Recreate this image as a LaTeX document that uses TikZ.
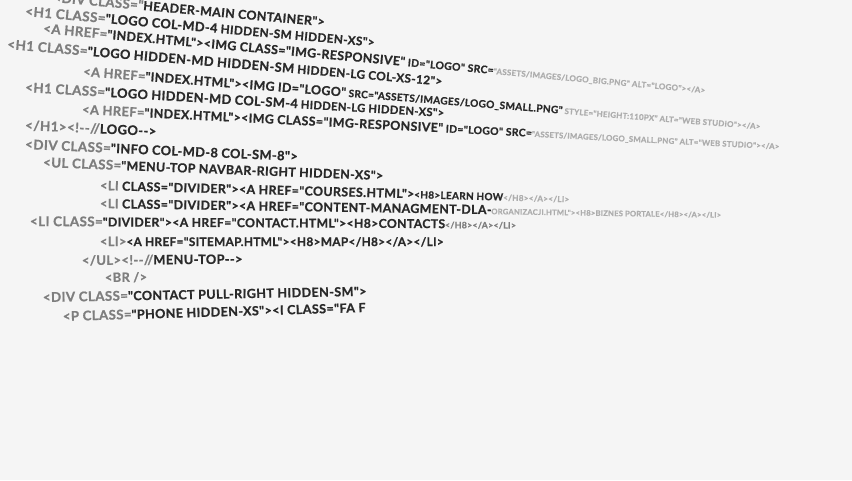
\documentclass[tikz,border=0pt]{standalone}
\usepackage{fontspec}
\usepackage{xcolor}
\usepackage{tikz}
\usetikzlibrary{positioning}

\newfontfamily\codefont[LetterSpace=3, BoldFeatures={FakeBold=0.9}]{Lato}
\definecolor{paper}{HTML}{F5F5F5}
\definecolor{inkdark}{HTML}{2A2A2A}
\definecolor{inksoft}{HTML}{7E7E7E}
\definecolor{inkfaint}{HTML}{ADADAD}

\tikzset{
  codetxt/.style={font={\codefont\bfseries\fontsize{#1}{#1}\selectfont}, inner sep=0pt, outer sep=0pt, anchor=base west, text=inkdark},
  soft/.style={text=inksoft},
  faint/.style={text=inkfaint}
}

\begin{document}
\begin{tikzpicture}[x=1pt, y=-1pt]
\useasboundingbox (0, 0) rectangle (852, 480);
\fill[paper] (0, 0) rectangle (852, 480);
\clip (0, 0) rectangle (852, 480);

% header rows
\node[codetxt=12.4, rotate=-5.1] (r0b) at (143, 10) {HEADER-MAIN CONTAINER">};
\node[codetxt=13.2, soft, rotate=-5.1, anchor=base east] (r0a) at (r0b.base west) {<DIV CLASS="};

\node[codetxt=13.5, soft, rotate=-5.0] (r1a) at (25, 16) {<H1 CLASS=};
\node[codetxt=12.8, rotate=-5.0] (r1b) at (r1a.base east) {"LOGO COL-MD-4};
\node[codetxt=11.8, rotate=-5.0] (r1c) at (r1b.base east) {\ HIDDEN-SM HIDDEN-XS">};

\node[codetxt=13.3, soft, rotate=-5.2] (r2a) at (43, 33) {<A HREF=};
\node[codetxt=12.4, rotate=-5.2] (r2b) at (r2a.base east) {"INDEX.HTML"><IMG CLASS="IMG-RESPONSIVE"};
\node[codetxt=10.4, rotate=-5.2] (r2c) at (r2b.base east) {\ ID="LOGO" SRC=};
\node[codetxt=8.0, faint, rotate=-5.2] (r2d) at (r2c.base east) {"ASSETS/IMAGES/LOGO\_BIG.PNG" ALT="LOGO"></A>};

\node[codetxt=13.5, soft, rotate=-4.8] (r3a) at (7, 49) {<H1 CLASS=};
\node[codetxt=12.8, rotate=-4.8] (r3b) at (r3a.base east) {"LOGO HIDDEN-MD HIDDEN-SM};
\node[codetxt=11.8, rotate=-4.8] (r3c) at (r3b.base east) {\ HIDDEN-LG COL-XS-12">};

\node[codetxt=12.9, soft, rotate=-4.5] (r4a) at (83, 76) {<A HREF=};
\node[codetxt=12.4, rotate=-4.5] (r4b) at (r4a.base east) {"INDEX.HTML"><IMG ID="LOGO"};
\node[codetxt=10.1, rotate=-4.5] (r4c) at (r4b.base east) {\ SRC="ASSETS/IMAGES/LOGO\_SMALL.PNG"};
\node[codetxt=7.9, faint, rotate=-4.5] (r4d) at (r4c.base east) {\ STYLE="HEIGHT:110PX" ALT="WEB STUDIO"></A>};

\node[codetxt=13.4, soft, rotate=-3.4] (r5a) at (25, 92) {<H1 CLASS=};
\node[codetxt=12.8, rotate=-3.4] (r5b) at (r5a.base east) {"LOGO HIDDEN-MD COL-SM-4};
\node[codetxt=11.2, rotate=-3.4] (r5c) at (r5b.base east) {\ HIDDEN-LG HIDDEN-XS">};

\node[codetxt=12.9, soft, rotate=-2.9] (r6a) at (82, 114) {<A HREF=};
\node[codetxt=12.4, rotate=-2.9] (r6b) at (r6a.base east) {"INDEX.HTML"><IMG CLASS="IMG-RESPONSIVE"};
\node[codetxt=10.4, rotate=-2.9] (r6c) at (r6b.base east) {\ ID="LOGO" SRC=};
\node[codetxt=7.8, faint, rotate=-2.9] (r6d) at (r6c.base east) {"ASSETS/IMAGES/LOGO\_SMALL.PNG" ALT="WEB STUDIO"></A>};

% info and menu
\node[codetxt=13.4, soft, rotate=-2.6] (r7a) at (25, 130) {</H1><!-{}-//};
\node[codetxt=13.0, rotate=-2.6] (r7b) at (r7a.base east) {LOGO-{}->};

\node[codetxt=13.4, soft, rotate=-2.5] (r8a) at (25, 149) {<DIV CLASS=};
\node[codetxt=12.8, rotate=-2.5] (r8b) at (r8a.base east) {"INFO COL-MD-8 COL-SM-8">};

\node[codetxt=13.3, soft, rotate=-2.2] (r9a) at (43, 167) {<UL CLASS=};
\node[codetxt=12.4, rotate=-2.2] (r9b) at (r9a.base east) {"MENU-TOP NAVBAR-RIGHT HIDDEN-XS">};

\node[codetxt=12.8, soft, rotate=-1.5] (r10a) at (100, 190) {<LI};
\node[codetxt=12.4, rotate=-1.5] (r10b) at (r10a.base east) {\ CLASS="DIVIDER"><A HREF="COURSES.HTML">};
\node[codetxt=10.0, rotate=-1.5] (r10c) at (r10b.base east) {<H8>LEARN HOW};
\node[codetxt=8.2, faint, rotate=-1.5] (r10d) at (r10c.base east) {</H8></A></LI>};

\node[codetxt=12.8, soft, rotate=-0.9] (r11a) at (100, 208) {<LI};
\node[codetxt=12.4, rotate=-0.9] (r11b) at (r11a.base east) {\ CLASS="DIVIDER"><A HREF="CONTENT-MANAGMENT-DLA-};
\node[codetxt=7.6, faint, rotate=-0.9] (r11c) at (r11b.base east) {ORGANIZACJI.HTML"><H8>BIZNES PORTALE</H8></A></LI>};

\node[codetxt=13.4, soft, rotate=-0.3] (r12a) at (30, 226) {<LI CLASS=};
\node[codetxt=12.2, rotate=-0.3] (r12b) at (r12a.base east) {"DIVIDER"><A HREF="CONTACT.HTML"><H8>CONTACTS};
\node[codetxt=8.8, soft, rotate=-0.3] (r12c) at (r12b.base east) {</H8></A></LI>};

\node[codetxt=12.8, soft] (r13a) at (100, 246) {<LI>};
\node[codetxt=11.8] (r13b) at (r13a.base east) {<A HREF="SITEMAP.HTML"><H8>MAP</H8></A></LI>};

\node[codetxt=13.0, soft, rotate=0.5] (r14a) at (82, 265) {</UL><!-{}-//};
\node[codetxt=12.8, rotate=0.5] (r14b) at (r14a.base east) {MENU-TOP-{}->};

\node[codetxt=12.8, soft, rotate=0.6] (r15a) at (105, 282) {<BR />};

% contact
\node[codetxt=13.3, soft, rotate=1.1] (r16a) at (43, 302) {<DIV CLASS=};
\node[codetxt=12.6, rotate=1.1] (r16b) at (r16a.base east) {"CONTACT PULL-RIGHT HIDDEN-SM">};

\node[codetxt=13.2, soft, rotate=1.7] (r17a) at (63, 321) {<P CLASS=};
\node[codetxt=12.6, rotate=1.7] (r17b) at (r17a.base east) {"PHONE HIDDEN-XS"><I CLASS="FA F};
\end{tikzpicture}
\end{document}
